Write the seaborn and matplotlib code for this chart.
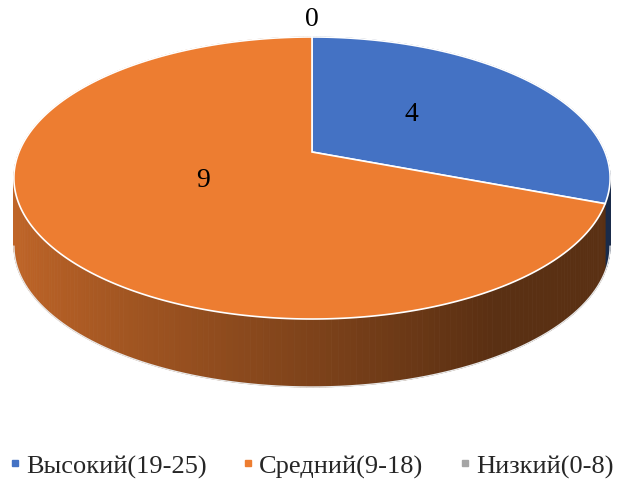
import numpy as np
import seaborn as sns
import matplotlib.pyplot as plt
from matplotlib.patches import Polygon
from matplotlib.lines import Line2D

# data
categories = ['Высокий(19-25)', 'Средний(9-18)', 'Низкий(0-8)']
values = [4, 9, 0]
colors = ['#4472C4', '#ED7D31', '#A5A5A5']

sns.set_theme(style='white')
plt.rcParams['font.family'] = ['Liberation Serif', 'DejaVu Serif']

palette = sns.color_palette(colors)

# perspective settings for the 3d pie (in pixels)
CX, R = 312, 293
A, B, C = 108, 153, -0.1844
DEPTH = 68


def proj(u, v, h=0.0):
    w = 1 + C * v
    return CX + R * u / w, (A * v + B) / w + DEPTH * h


def shade(col, u):
    f = np.clip(0.53 - 0.29 * u, 0.38, 0.85)
    return tuple(np.array(col) * f)


fig = plt.figure(figsize=(6.24, 4.89), dpi=100)
ax = fig.add_axes([0, 0, 1, 1])
ax.set_xlim(0, 624)
ax.set_ylim(489, 0)
ax.axis('off')

total = sum(values)
starts = np.cumsum([0] + values[:-1]) / total * 2 * np.pi
spans = np.array(values) / total * 2 * np.pi

# side wall, drawn back to front
quads = []
for st, sp, col in zip(starts, spans, palette):
    if sp == 0:
        continue
    n = max(int(np.degrees(sp)), 2)
    th = np.linspace(st, st + sp, n + 1)
    for t0, t1 in zip(th[:-1], th[1:]):
        u0, v0 = np.sin(t0), -np.cos(t0)
        u1, v1 = np.sin(t1), -np.cos(t1)
        pts = [proj(u0, v0), proj(u1, v1), proj(u1, v1, 1), proj(u0, v0, 1)]
        um = np.sin((t0 + t1) / 2)
        vm = -np.cos((t0 + t1) / 2)
        quads.append((vm, pts, shade(col, um)))
quads.sort(key=lambda q: q[0])
for vm, pts, fc in quads:
    ax.add_patch(Polygon(pts, closed=True, facecolor=fc, edgecolor=fc, lw=0.6))

# visible bottom outline of the side (between the silhouette points)
t_sil = np.arccos(C)
tt = np.linspace(t_sil, 2 * np.pi - t_sil, 200)
bx, by = zip(*[proj(np.sin(t), -np.cos(t), 1) for t in tt])
ax.plot(bx, by, color='#e8e8e8', lw=1)

# top face
for st, sp, col in zip(starts, spans, palette):
    if sp == 0:
        continue
    th = np.linspace(st, st + sp, 300)
    pts = [proj(0, 0)] + [proj(np.sin(t), -np.cos(t)) for t in th]
    ax.add_patch(Polygon(pts, closed=True, facecolor=col, edgecolor='white', lw=1.2))

# data labels
for st, sp, val in zip(starts, spans, values):
    mid = st + sp / 2
    r = 0.43 if val > 0 else 1.2
    x, y = proj(r * np.sin(mid), -r * np.cos(mid))
    if val > 0:
        y -= 7
    ax.text(x, y, str(val), ha='center', va='center', fontsize=20, color='black')

handles = [Line2D([], [], marker='s', linestyle='', color=c, markersize=5) for c in palette]
fig.legend(handles, categories, loc='center', bbox_to_anchor=(0.5, 0.045), ncol=3,
           frameon=False, fontsize=19, handlelength=0.35, handletextpad=0.25,
           columnspacing=1.4, borderpad=0.2)

fig.savefig('out.png', dpi=100)
